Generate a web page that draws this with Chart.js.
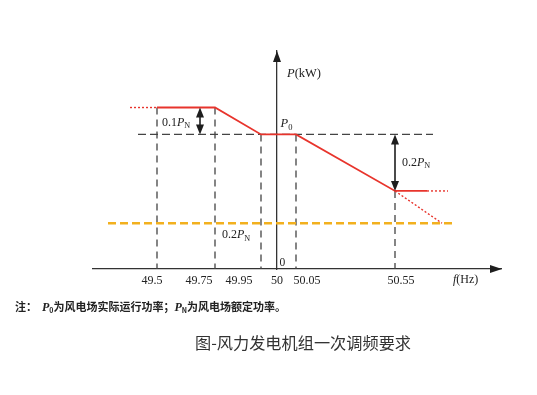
<!DOCTYPE html>
<html>
<head>
<meta charset="utf-8">
<script src="https://cdn.jsdelivr.net/npm/chart.js@4"></script>
<style>
  html, body { margin: 0; padding: 0; background: #fff; }
  #wrap { position: relative; width: 537px; height: 395px; overflow: hidden; }
  canvas { position: absolute; left: 0; top: 0; }
  .note { position: absolute; left: 15px; top: 298px; font: bold 11px "Noto Sans CJK SC"; color: #222; white-space: nowrap; }
  .note i { font-family: "Liberation Serif"; font-size: 12px; }
  .note sub { font-size: 7px; vertical-align: -2px; }
  .title { position: absolute; left: 195px; top: 330px; font: 16.2px "Noto Sans CJK SC"; color: #333; white-space: nowrap; }
</style>
</head>
<body>
<div id="wrap">
  <canvas id="c" width="537" height="395"></canvas>
  <div class="note">注：&nbsp;&nbsp;<i>P</i><sub>0</sub>为风电场实际运行功率；<i>P</i><sub>N</sub>为风电场额定功率。</div>
  <div class="title">图-风力发电机组一次调频要求</div>
</div>
<script>
(function(){
  // the figure is a schematic: frequencies sit on "slots", not to scale
  var tickLabels = ['49.5', '49.75', '49.95', '50', '50.05', '50.55'],
      tickSlots  = [0, 5.8, 10.4, 12.0, 13.9, 23.8],
      labelSlots = [-0.5, 4.2, 8.2, 12.0, 15.0, 24.4],   // labels are nudged off the guides
      guideTops  = [0.6, 0.6, 0.5, null, 0.5, 0.29];    // in units of PN

  // red response curve
  var curveX = [0, 5.8, 10.4, 13.9, 23.8, 27.0],
      curveY = [0.6, 0.6, 0.5, 0.5, 0.29, 0.29];
  // dotted continuations
  var leftTailX = [-2.7, 0],      leftTailY = [0.6, 0.6],
      rightTailX = [27.0, 29.1],  rightTailY = [0.29, 0.29],
      slopeTailX = [23.8, 28.5],  slopeTailY = [0.29, 0.17];
  // 0.2PN floor (orange) and P0 guide
  var floorX = [-4.9, 29.6],  floorY = [0.17, 0.17],
      p0GuideX = [-1.9, 27.6], p0GuideY = [0.5, 0.5];

  var red = '#e8342c', orange = '#f2b01e', guide = '#444';

  function pts(xs, ys) {
    return xs.map(function(x, i){ return {x: x, y: ys[i]}; });
  }
  function line(data, color, width, dash) {
    return { data: data, borderColor: color, borderWidth: width, borderDash: dash || [],
             pointRadius: 0, fill: false, tension: 0 };
  }

  var datasets = [
    line(pts(curveX, curveY), red, 1.8),
    line(pts(leftTailX, leftTailY), red, 1.4, [2, 2]),
    line(pts(rightTailX, rightTailY), red, 1.4, [2, 2]),
    line(pts(slopeTailX, slopeTailY), red, 1.4, [2, 2]),
    line(pts(p0GuideX, p0GuideY), guide, 1.3, [8, 4]),
    line(pts(floorX, floorY), orange, 2.4, [8, 4])
  ];
  tickSlots.forEach(function(s, i){
    if (guideTops[i] === null) return;
    datasets.push(line(pts([s, s], [guideTops[i], 0]), guide, 1.3, [7, 5]));
  });

  function head(ctx, x, y, dir, len, w) {
    ctx.beginPath();
    if (dir === 'right') { ctx.moveTo(x, y); ctx.lineTo(x - len, y - w/2); ctx.lineTo(x - len, y + w/2); }
    if (dir === 'up')    { ctx.moveTo(x, y); ctx.lineTo(x - w/2, y + len); ctx.lineTo(x + w/2, y + len); }
    if (dir === 'down')  { ctx.moveTo(x, y); ctx.lineTo(x - w/2, y - len); ctx.lineTo(x + w/2, y - len); }
    ctx.closePath();
    ctx.fill();
  }

  function rich(ctx, x, y, parts, size) {
    var cx = x;
    ctx.textBaseline = 'middle';
    ctx.textAlign = 'left';
    parts.forEach(function(p){
      var fs = p.sub ? size * 0.68 : size;
      ctx.font = (p.it ? 'italic ' : '') + fs + 'px "Liberation Serif"';
      ctx.fillText(p.t, cx, y + (p.sub ? size * 0.3 : 0));
      cx += ctx.measureText(p.t).width;
    });
  }

  var annotate = {
    id: 'annotate',
    afterDraw: function(chart) {
      var ctx = chart.ctx, xs = chart.scales.x, ys = chart.scales.y, a = chart.chartArea;
      var px = function(v){ return xs.getPixelForValue(v); },
          py = function(v){ return ys.getPixelForValue(v); };
      ctx.save();
      ctx.fillStyle = '#1e1e1e';
      ctx.strokeStyle = '#1e1e1e';
      ctx.lineWidth = 1.6;

      // axis arrowheads
      head(ctx, a.right + 1, a.bottom, 'right', 12, 8);
      head(ctx, px(12.0), a.top, 'up', 11, 8);

      // double arrows for 0.1PN and 0.2PN
      [[4.3, 0.6, 0.5], [23.8, 0.5, 0.29]].forEach(function(d){
        var x = px(d[0]), y1 = py(d[1]), y2 = py(d[2]);
        ctx.beginPath(); ctx.moveTo(x, y1 + 4); ctx.lineTo(x, y2 - 4); ctx.stroke();
        head(ctx, x, y1, 'up', 10, 8);
        head(ctx, x, y2, 'down', 10, 8);
      });

      ctx.fillStyle = '#222';
      var PN = [{t: 'P', it: 1}, {t: 'N', sub: 1}];
      rich(ctx, px(13.0), py(0.726), [{t: 'P', it: 1}, {t: '(kW)'}], 12.5);
      rich(ctx, px(12.35), py(0.54), [{t: 'P', it: 1}, {t: '0', sub: 1}], 12.5);
      rich(ctx, px(12.25), py(0.022), [{t: '0'}], 11.5);
      rich(ctx, px(0.5), py(0.544), [{t: '0.1'}].concat(PN), 12);
      rich(ctx, px(24.5), py(0.396), [{t: '0.2'}].concat(PN), 12);
      rich(ctx, px(6.5), py(0.126), [{t: '0.2'}].concat(PN), 12);
      rich(ctx, px(29.6), a.bottom + 11, [{t: 'f', it: 1}, {t: '(Hz)'}], 12);
      ctx.restore();
    }
  };

  new Chart(document.getElementById('c'), {
    type: 'line',
    data: { datasets: datasets },
    options: {
      responsive: false,
      animation: false,
      devicePixelRatio: 1,
      layout: { padding: { left: 93, right: 36, top: 51, bottom: 100 } },
      plugins: { legend: { display: false }, tooltip: { enabled: false } },
      scales: {
        x: {
          type: 'linear', min: -6.4, max: 34.4,
          grid: { display: false, drawTicks: false },
          border: { color: '#333', width: 1.3 },
          afterBuildTicks: function(s){ s.ticks = labelSlots.map(function(v){ return {value: v}; }); },
          afterFit: function(s){ s.height = 26; },
          ticks: {
            autoSkip: false, maxRotation: 0, padding: 5, color: '#222',
            font: { family: 'Liberation Serif', size: 12 },
            callback: function(v, i){ return tickLabels[i]; }
          }
        },
        y: {
          type: 'linear', min: 0, max: 0.81,
          position: { x: 12.0 },
          grid: { display: false },
          border: { color: '#333', width: 1.3 },
          ticks: { display: false }
        }
      }
    },
    plugins: [annotate]
  });
})();
</script>
</body>
</html>
